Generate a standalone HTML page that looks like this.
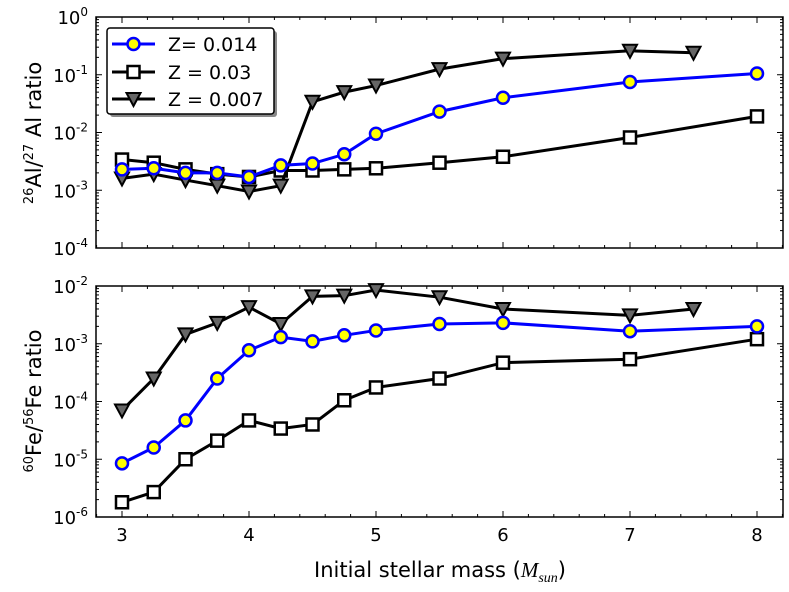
<!DOCTYPE html>
<html><head><meta charset="utf-8"><style>
html,body{margin:0;padding:0;background:#fff;}
svg{display:block;font-family:"DejaVu Sans","Liberation Sans",sans-serif;}
</style></head><body>
<svg id="c" width="789" height="592" viewBox="0 0 789 592" xmlns="http://www.w3.org/2000/svg"></svg>
<script>
const masses=[3,3.25,3.5,3.75,4,4.25,4.5,4.75,5,5.5,6,7,8];
const massesLow=[3,3.25,3.5,3.75,4,4.25,4.5,4.75,5,5.5,6,7,7.5];
const alZ014=[2.3e-3,2.4e-3,2.0e-3,2.0e-3,1.7e-3,2.7e-3,2.9e-3,4.2e-3,9.5e-3,2.3e-2,4.0e-2,7.5e-2,0.105];
const alZ03=[3.4e-3,3.0e-3,2.3e-3,1.9e-3,1.7e-3,2.2e-3,2.2e-3,2.3e-3,2.4e-3,3.0e-3,3.8e-3,8.2e-3,1.9e-2];
const alZ007=[1.6e-3,1.9e-3,1.5e-3,1.2e-3,0.95e-3,1.2e-3,3.4e-2,5e-2,6.5e-2,0.125,0.19,0.26,0.24];
const feZ014=[8.5e-6,1.6e-5,4.7e-5,2.5e-4,7.7e-4,1.3e-3,1.1e-3,1.4e-3,1.7e-3,2.2e-3,2.3e-3,1.65e-3,2.0e-3];
const feZ03=[1.8e-6,2.7e-6,1.0e-5,2.1e-5,4.7e-5,3.4e-5,4.0e-5,1.05e-4,1.75e-4,2.5e-4,4.7e-4,5.4e-4,1.2e-3];
const feZ007=[7e-5,2.5e-4,1.45e-3,2.3e-3,4.3e-3,2.2e-3,6.6e-3,6.8e-3,8.5e-3,6.4e-3,4.0e-3,3.1e-3,4.0e-3];
const xTickLabels=[3,4,5,6,7,8];
const topExps=[-4,-3,-2,-1,0];
const botExps=[-6,-5,-4,-3,-2];

const NS="http://www.w3.org/2000/svg";
const svg=document.getElementById('c');
function mk(tag,attrs,parent){const e=document.createElementNS(NS,tag);for(const k in attrs)e.setAttribute(k,attrs[k]);(parent||svg).appendChild(e);return e;}
const X0=96,X1=783;
const xs=m=>122+(m-3)*127;
function panel(top,bot,eMin,eMax,exps,name){
  const ys=v=>bot-(Math.log10(v)-eMin)/(eMax-eMin)*(bot-top);
  const g=mk('g',{});
  
  
  mk('rect',{x:X0,y:top,width:X1-X0,height:bot-top,fill:'#fff',stroke:'#000','stroke-width':1.5},g);
  for(let m=2.8;m<=8.21;m+=0.2){
    const x=xs(m);const maj=Math.abs(m-Math.round(m))<1e-6;const L=maj?6:3;
    mk('line',{x1:x,x2:x,y1:bot,y2:bot-L,stroke:'#000','stroke-width':1},g);
    mk('line',{x1:x,x2:x,y1:top,y2:top+L,stroke:'#000','stroke-width':1},g);
  }
  for(let e=eMin;e<eMax;e++){
    for(let k=1;k<10;k++){
      const y=ys(k*Math.pow(10,e));const L=k===1?6:3;
      mk('line',{x1:X0,x2:X0+L,y1:y,y2:y,stroke:'#000','stroke-width':1},g);
      mk('line',{x1:X1,x2:X1-L,y1:y,y2:y,stroke:'#000','stroke-width':1},g);
    }
  }
  exps.forEach(e=>{
    const y=ys(Math.pow(10,e));
    const t=mk('text',{x:X0-8,y:y+7,'text-anchor':'end','font-size':18},g);
    
    
    t.innerHTML='10<tspan dy="-8" font-size="12">'+e+'</tspan>';
  });
  return {g,ys};
}
function series(p,xsArr,vals,kind,name){
  const g=mk('g',{},p.g);
  
  
  const pts=xsArr.map((m,i)=>[xs(m),p.ys(vals[i])]);
  mk('polyline',{points:pts.map(a=>a.join(',')).join(' '),fill:'none',stroke:kind==='c'?'#0000ff':'#000','stroke-width':3},g);
  pts.forEach(([x,y])=>{let el;
    if(kind==='c')el=mk('circle',{cx:x,cy:y,r:6,fill:'#ffff00',stroke:'#0000ff','stroke-width':2.5},g);
    else if(kind==='s')el=mk('rect',{x:x-6,y:y-6,width:12,height:12,fill:'#fff',stroke:'#000','stroke-width':2.5},g);
    else el=mk('polygon',{points:`${x-7},${y-6} ${x+7},${y-6} ${x},${y+7}`,fill:'#666',stroke:'#000','stroke-width':2},g);
    
    
  });
}
const pt=panel(17,248,-4,0,topExps,'al-panel');
series(pt,masses,alZ03,'s','al-series-z003');
series(pt,massesLow,alZ007,'t','al-series-z0007');
series(pt,masses,alZ014,'c','al-series-z0014');
const pb=panel(286,517,-6,-2,botExps,'fe-panel');
series(pb,masses,feZ03,'s','fe-series-z003');
series(pb,massesLow,feZ007,'t','fe-series-z0007');
series(pb,masses,feZ014,'c','fe-series-z0014');
xTickLabels.forEach(m=>{
  const t=mk('text',{x:xs(m),y:541,'text-anchor':'middle','font-size':18});
  
  
  t.textContent=m;
});
// legend
const lg=mk('g',{});


mk('rect',{x:110,y:31,width:167,height:86,rx:3,fill:'#888'},lg);
mk('rect',{x:107,y:28,width:167,height:86,rx:3,fill:'#fff',stroke:'#000','stroke-width':1.5},lg);
[['c','Z= 0.014',44],['s','Z = 0.03',72],['t','Z = 0.007',99]].forEach(([k,lab,y])=>{
  const e=mk('g',{},lg);
  
  
  mk('line',{x1:112,x2:155,y1:y,y2:y,stroke:k==='c'?'#0000ff':'#000','stroke-width':3},e);
  const x=133.5;
  if(k==='c')mk('circle',{cx:x,cy:y,r:6,fill:'#ffff00',stroke:'#0000ff','stroke-width':2.5},e);
  else if(k==='s')mk('rect',{x:x-6,y:y-6,width:12,height:12,fill:'#fff',stroke:'#000','stroke-width':2.5},e);
  else mk('polygon',{points:`${x-7},${y-6} ${x+7},${y-6} ${x},${y+7}`,fill:'#666',stroke:'#000','stroke-width':2},e);
  const t=mk('text',{x:168,y:y+7,'font-size':19},e);
  t.textContent=lab;
});
</script>
<svg style="position:absolute;left:0;top:0" width="789" height="592">
<text transform="translate(41,133) rotate(-90)" text-anchor="middle" font-size="21" font-family="DejaVu Sans, sans-serif"><tspan font-size="13" dy="-8">26</tspan><tspan dy="8">Al/</tspan><tspan font-size="13" dy="-8">27</tspan><tspan dy="8"> Al ratio</tspan></text>
<text transform="translate(41,401) rotate(-90)" text-anchor="middle" font-size="21" font-family="DejaVu Sans, sans-serif"><tspan font-size="13" dy="-8">60</tspan><tspan dy="8">Fe/</tspan><tspan font-size="13" dy="-8">56</tspan><tspan dy="8">Fe ratio</tspan></text>
<text x="440" y="577" text-anchor="middle" font-size="21" font-family="DejaVu Sans, sans-serif">Initial stellar mass (<tspan font-family="Liberation Serif, serif" font-style="italic">M</tspan><tspan font-family="Liberation Serif, serif" font-style="italic" font-size="14" dy="5">sun</tspan><tspan dy="-5">)</tspan></text>
</svg>
</body></html>
